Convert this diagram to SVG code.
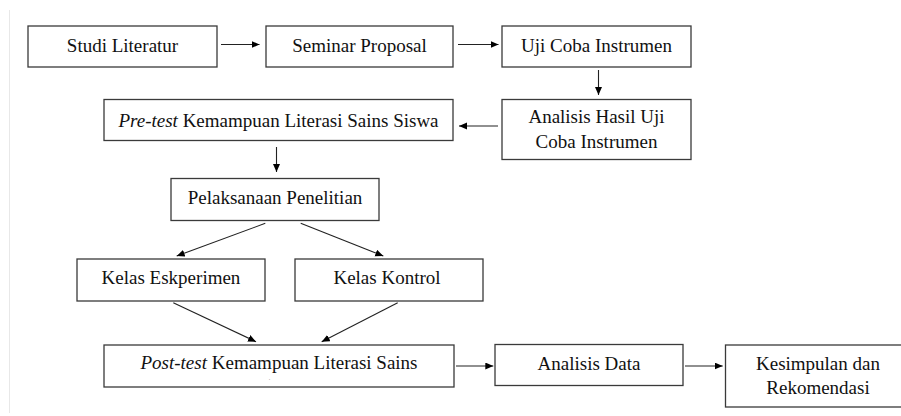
<svg xmlns="http://www.w3.org/2000/svg" width="901" height="416" viewBox="0 0 901 416">
<defs>
<marker id="ah" markerUnits="userSpaceOnUse" markerWidth="10" markerHeight="8" refX="8" refY="3.5" orient="auto">
<path d="M0,0 L8,3.5 L0,7 z" fill="#000"/>
</marker>
<style>
.box{fill:#fff;stroke:#3a3a3a;stroke-width:1.3}
.t{font-family:"Liberation Serif","Times New Roman",serif;font-size:19px;fill:#111;text-anchor:middle}
.c{stroke:#222;stroke-width:1.1;fill:none;marker-end:url(#ah)}
</style>
</defs>
<rect width="901" height="416" fill="#fff"/>
<line x1="9.5" y1="10" x2="9.5" y2="413" stroke="#e8e8e8" stroke-width="1"/>
<g id="studi"><rect class="box" x="28" y="26" width="189" height="41"/><text class="t" x="122.5" y="51.5">Studi Literatur</text></g>
<g id="seminar"><rect class="box" x="266" y="26" width="187" height="41"/><text class="t" x="359.5" y="51.5">Seminar Proposal</text></g>
<g id="uji"><rect class="box" x="502" y="26" width="189" height="41"/><text class="t" x="596.5" y="51.5">Uji Coba Instrumen</text></g>
<g id="analisisHasil"><rect class="box" x="502" y="99.5" width="189" height="60"/><text class="t" x="596.5" y="123">Analisis Hasil Uji</text><text class="t" x="596.5" y="148">Coba Instrumen</text></g>
<g id="pretest"><rect class="box" x="104" y="99.5" width="349" height="41"/><text class="t" x="278.5" y="127"><tspan font-style="italic">Pre-test</tspan> Kemampuan Literasi Sains Siswa</text></g>
<g id="pelaksanaan"><rect class="box" x="171" y="178.5" width="208" height="42"/><text class="t" x="275" y="203.5">Pelaksanaan Penelitian</text></g>
<g id="eksperimen"><rect class="box" x="77" y="259" width="188" height="42"/><text class="t" x="171" y="283.5">Kelas Eskperimen</text></g>
<g id="kontrol"><rect class="box" x="295" y="259" width="188" height="42"/><text class="t" x="387" y="283.5">Kelas Kontrol</text></g>
<g id="posttest"><rect class="box" x="104" y="345" width="350" height="42"/><text class="t" x="279" y="368.5"><tspan font-style="italic">Post-test</tspan> Kemampuan Literasi Sains</text><text x="269.5" y="380" font-family="Liberation Serif, serif" font-size="6" fill="#888" text-anchor="middle">.</text></g>
<g id="analisisData"><rect class="box" x="495" y="344.5" width="188" height="41"/><text class="t" x="589" y="369.5">Analisis Data</text></g>
<g id="kesimpulan"><rect class="box" x="725.5" y="345" width="190" height="62"/><text class="t" x="818" y="369.5">Kesimpulan dan</text><text class="t" x="818" y="393.5">Rekomendasi</text></g>
<g id="connectors">
<line class="c" x1="221" y1="44.5" x2="259.5" y2="44.5"/>
<line class="c" x1="458" y1="44.5" x2="498.5" y2="44.5"/>
<line class="c" x1="598.5" y1="70" x2="598.5" y2="95"/>
<line class="c" x1="498" y1="126" x2="459" y2="126"/>
<line class="c" x1="276.5" y1="147" x2="276.5" y2="172"/>
<line class="c" x1="265.3" y1="223.3" x2="176.7" y2="256"/>
<line class="c" x1="300.7" y1="223.3" x2="383.3" y2="256"/>
<line class="c" x1="173.3" y1="302.7" x2="256" y2="341.7"/>
<line class="c" x1="397.7" y1="302.7" x2="321.7" y2="341.7"/>
<line class="c" x1="456" y1="366" x2="493.3" y2="366"/>
<line class="c" x1="685" y1="366" x2="722.7" y2="366"/>
</g>
</svg>
